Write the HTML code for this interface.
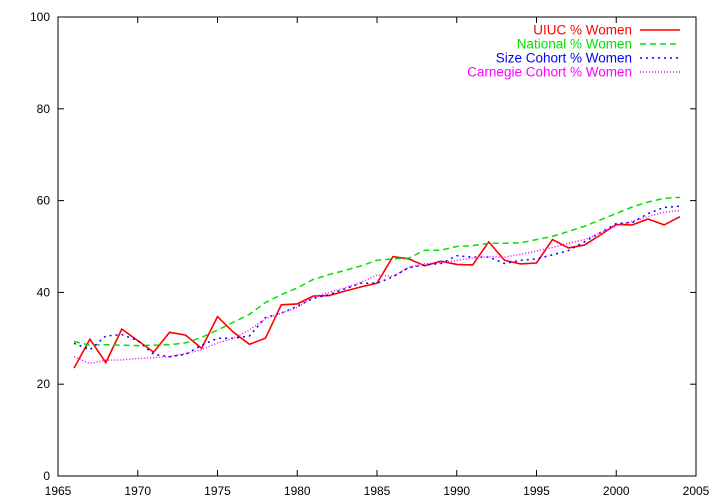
<!DOCTYPE html>
<html><head><meta charset="utf-8"><style>body{margin:0;background:#fff}svg{display:block;font-family:"Liberation Sans",sans-serif}</style></head>
<body>
<svg id="chart" width="720" height="504" xmlns="http://www.w3.org/2000/svg"></svg>
<script>
const years=[1966,1967,1968,1969,1970,1971,1972,1973,1974,1975,1976,1977,1978,1979,1980,1981,1982,1983,1984,1985,1986,1987,1988,1989,1990,1991,1992,1993,1994,1995,1996,1997,1998,1999,2000,2001,2002,2003,2004];
const uiuc=[23.5,29.8,24.7,32,29.5,27,31.3,30.7,27.8,34.7,31.3,28.7,30,37.3,37.5,39.2,39.3,40.3,41.2,42,47.8,47.3,45.8,46.8,46.1,46,51,47,46.2,46.4,51.5,49.7,50.3,52.5,54.8,54.7,56,54.7,56.5];
const national=[29.3,28.5,28.6,28.5,28.4,28.5,28.6,29.0,30.2,31.8,33.5,35.2,37.8,39.5,41.0,42.8,43.9,44.8,45.8,47.0,47.3,47.5,49.2,49.2,50.0,50.2,50.7,50.7,50.8,51.5,52.2,53.3,54.4,55.8,57.2,58.6,59.7,60.5,60.7];
const sizeCohort=[28.9,27.5,30.5,30.8,29.5,26.5,26,26.5,28.5,30,30,30.5,34.5,35.5,37,38.7,39.5,40.8,42,42,43.4,45.4,46.0,46.3,48.0,47.7,47.7,46.3,47.0,47.3,48.2,49.1,51.0,53.0,55.0,55.2,57.2,58.5,58.8];
const carnegie=[26,24.5,25.2,25.3,25.6,25.8,26,26.7,27.5,29,30,31.8,34.3,35.5,36.7,39,40,41,42.2,43.8,43.5,45.5,46.2,46.5,47,47.5,47.8,47.7,48.3,49,49.8,50.7,51.5,53,54.5,55.5,56.5,57.5,57.8];
const xTicks=[1965,1970,1975,1980,1985,1990,1995,2000,2005];
const yTicks=[0,20,40,60,80,100];
const seriesNames=["UIUC % Women","National % Women","Size Cohort % Women","Carnegie Cohort % Women"];

const L=58,R=696,T=17,B=476;
const X=v=>L+(v-1965)/40*(R-L);
const Y=v=>B-v/100*(B-T);
const svg=document.getElementById('chart');
const NS='http://www.w3.org/2000/svg';
function mk(tag,attrs,parent){const e=document.createElementNS(NS,tag);for(const k in attrs)e.setAttribute(k,attrs[k]);(parent||svg).appendChild(e);return e;}

const frame=mk('rect',{x:L,y:T,width:R-L,height:B-T,fill:'none',stroke:'#000','stroke-width':1});



xTicks.forEach(t=>{
  const g=mk('g',{});
  
  
  mk('line',{x1:X(t),x2:X(t),y1:B,y2:B-6,stroke:'#000'},g);
  mk('line',{x1:X(t),x2:X(t),y1:T,y2:T+6,stroke:'#000'},g);
  const tx=mk('text',{x:X(t),y:B+19,'text-anchor':'middle','font-size':12},g);tx.textContent=t;
});
yTicks.forEach(t=>{
  const g=mk('g',{});
  
  
  mk('line',{x1:L,x2:L+6,y1:Y(t),y2:Y(t),stroke:'#000'},g);
  mk('line',{x1:R,x2:R-6,y1:Y(t),y2:Y(t),stroke:'#000'},g);
  const tx=mk('text',{x:L-8,y:Y(t)+4,'text-anchor':'end','font-size':12},g);tx.textContent=t;
});

const series=[uiuc,national,sizeCohort,carnegie];
const colors=['#ff0000','#00e000','#0000ff','#ff00ff'];
const dashes=['none','6,4','2,4','1,2'];
const names=['series-uiuc','series-national','series-size-cohort','series-carnegie-cohort'];
series.forEach((s,i)=>{
  const d=s.map((v,j)=>(j?'L':'M')+X(years[j]).toFixed(1)+','+Y(v).toFixed(1)).join('');
  const p=mk('path',{d:d,fill:'none',stroke:colors[i],'stroke-width':i==0?1.6:1.5,'stroke-dasharray':dashes[i]});
  
  
  const g=mk('g',{});
  
  
  const ly=30+i*14;
  const tx=mk('text',{x:632,y:ly+4.5,'text-anchor':'end','font-size':13.5,fill:colors[i]},g);tx.textContent=seriesNames[i];
  mk('line',{x1:640,x2:680,y1:ly,y2:ly,stroke:colors[i],'stroke-width':1.5,'stroke-dasharray':dashes[i]},g);
});
</script>
</body></html>
